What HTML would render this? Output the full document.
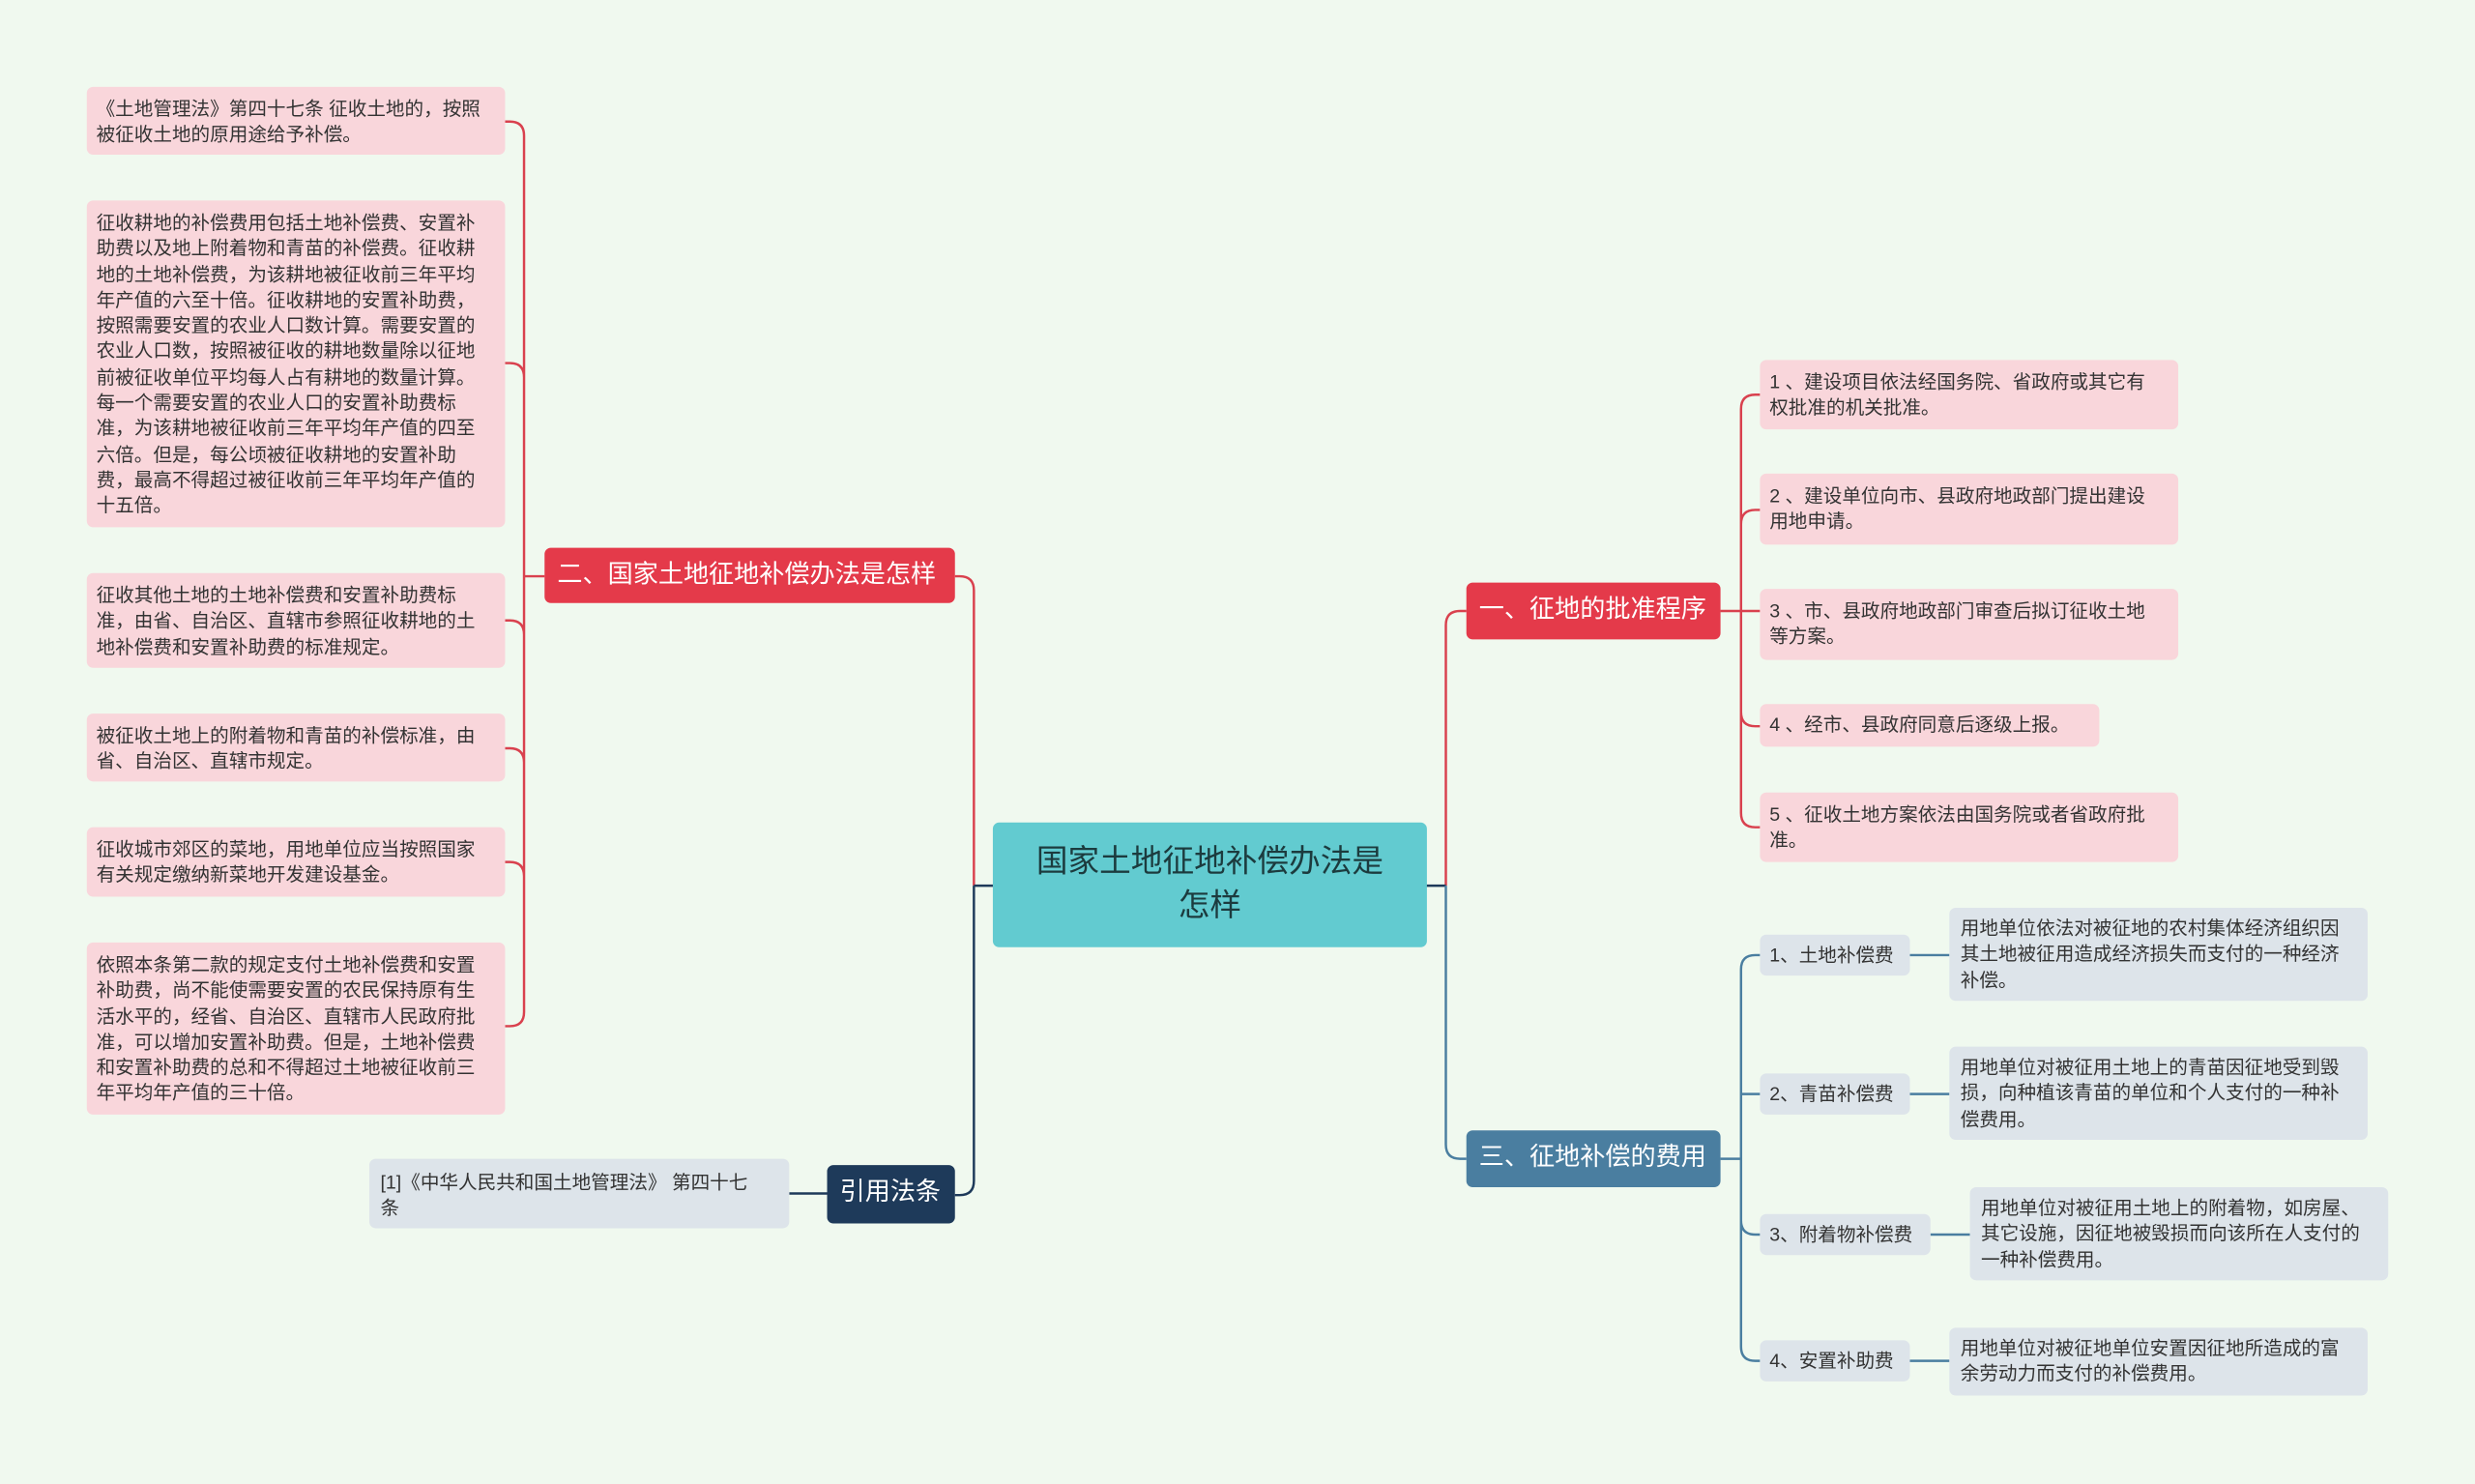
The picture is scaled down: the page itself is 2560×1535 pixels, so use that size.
<!DOCTYPE html>
<html><head><meta charset="utf-8"><style>
html,body{margin:0;padding:0;width:2560px;height:1535px;overflow:hidden;background:#f0f9ef;}
#w{position:absolute;left:0;top:0;width:1568px;height:940px;transform:scale(1.63265,1.63298);transform-origin:0 0;font-family:"Liberation Sans","Noto Sans CJK SC",sans-serif;}
.n{position:absolute;box-sizing:border-box;border-radius:4px;}
.leaf{background:#f9d6db;color:#333;font-size:12px;line-height:16.3px;padding:6px 11px 6px 6px;}
.gl{background:#dde4ea;color:#333;font-size:12px;line-height:16.3px;padding:5px 11px 5px 7px;}
.lb{white-space:nowrap;padding:5px 4px 0 6px;}
.m{color:#fff;font-size:16px;line-height:36px;padding:0 8px;white-space:nowrap;}
svg{position:absolute;left:0;top:0;}
</style></head><body><div id="w">
<svg width="1568" height="940" fill="none" stroke-width="1.5">
<g stroke="#d9414e">
<path d="M617,561 V374 Q617,365 608,365 H605"/>
<path d="M916,561 V396 Q916,387 925,387 H929"/>
<path d="M345,365 H332"/>
<path d="M332,86 V641 M332,86 Q332,77 323,77 H320 M332,239 Q332,230 323,230 H320 M332,402 Q332,393 323,393 H320 M332,483 Q332,474 323,474 H320 M332,555 Q332,546 323,546 H320 M332,641 Q332,650 323,650 H320"/>
<path d="M1090,387 H1103"/>
<path d="M1103,259 V515 M1103,259 Q1103,250 1112,250 H1115 M1103,332 Q1103,323 1112,323 H1115 M1103,387 H1115 M1103,451 Q1103,460 1112,460 H1115 M1103,515 Q1103,524 1112,524 H1115"/>
</g>
<path d="M617,561 V748 Q617,757 608,757 H605" stroke="#1e3a5a"/>
<path d="M524,756 H500" stroke="#1e3a5a"/>
<path d="M617,561 H916" stroke="#1e3a5a"/>
<g stroke="#4a7ea0">
<path d="M916,561 V725 Q916,734 925,734 H929"/>
<path d="M1090,734 H1103 M1103,614 V853 M1103,614 Q1103,605 1112,605 H1115 M1103,693 H1115 M1103,773 Q1103,782 1112,782 H1115 M1103,853 Q1103,862 1112,862 H1115"/>
<path d="M1210,605 H1235 M1210,693 H1235 M1223,782 H1248 M1210,862 H1235"/>
</g>
</svg>
<div class="n" style="left:629px;top:521px;width:275px;height:79px;background:#62cbd0;color:#1c3b3e;font-size:20px;line-height:28px;text-align:center;padding-top:11px;">国家土地征地补偿办法是<br>怎样</div>
<div class="n m" style="left:929px;top:369px;width:161px;height:36px;background:#e43a4a;">一、征地的批准程序</div>
<div class="n m" style="left:345px;top:347px;width:260px;height:35px;line-height:35px;background:#e43a4a;">二、国家土地征地补偿办法是怎样</div>
<div class="n m" style="left:929px;top:716px;width:161px;height:36px;background:#4a7ea0;">三、征地补偿的费用</div>
<div class="n m" style="left:524px;top:738px;width:81px;height:37px;background:#1e3a5a;">引用法条</div>

<div class="n leaf" style="left:1115px;top:228px;width:265px;height:44px;">1 、建设项目依法经国务院、省政府或其它有权批准的机关批准。</div>
<div class="n leaf" style="left:1115px;top:300px;width:265px;height:45px;">2 、建设单位向市、县政府地政部门提出建设用地申请。</div>
<div class="n leaf" style="left:1115px;top:373px;width:265px;height:45px;">3 、市、县政府地政部门审查后拟订征收土地等方案。</div>
<div class="n leaf" style="left:1115px;top:446px;width:215px;height:27px;padding-top:5px;">4 、经市、县政府同意后逐级上报。</div>
<div class="n leaf" style="left:1115px;top:502px;width:265px;height:44px;">5 、征收土地方案依法由国务院或者省政府批准。</div>

<div class="n leaf" style="left:55px;top:55px;width:265px;height:43px;">《土地管理法》第四十七条 征收土地的，按照被征收土地的原用途给予补偿。</div>
<div class="n leaf" style="left:55px;top:127px;width:265px;height:207px;">征收耕地的补偿费用包括土地补偿费、安置补助费以及地上附着物和青苗的补偿费。征收耕地的土地补偿费，为该耕地被征收前三年平均年产值的六至十倍。征收耕地的安置补助费，按照需要安置的农业人口数计算。需要安置的农业人口数，按照被征收的耕地数量除以征地前被征收单位平均每人占有耕地的数量计算。每一个需要安置的农业人口的安置补助费标准，为该耕地被征收前三年平均年产值的四至六倍。但是，每公顷被征收耕地的安置补助费，最高不得超过被征收前三年平均年产值的十五倍。</div>
<div class="n leaf" style="left:55px;top:363px;width:265px;height:60px;">征收其他土地的土地补偿费和安置补助费标准，由省、自治区、直辖市参照征收耕地的土地补偿费和安置补助费的标准规定。</div>
<div class="n leaf" style="left:55px;top:452px;width:265px;height:43px;">被征收土地上的附着物和青苗的补偿标准，由省、自治区、直辖市规定。</div>
<div class="n leaf" style="left:55px;top:524px;width:265px;height:44px;">征收城市郊区的菜地，用地单位应当按照国家有关规定缴纳新菜地开发建设基金。</div>
<div class="n leaf" style="left:55px;top:597px;width:265px;height:109px;">依照本条第二款的规定支付土地补偿费和安置补助费，尚不能使需要安置的农民保持原有生活水平的，经省、自治区、直辖市人民政府批准，可以增加安置补助费。但是，土地补偿费和安置补助费的总和不得超过土地被征收前三年平均年产值的三十倍。</div>

<div class="n gl" style="left:234px;top:734px;width:266px;height:44px;padding:7px 4px 5px 7px;white-space:nowrap;">[1]《中华人民共和国土地管理法》 第四十七<br>条</div>

<div class="n gl lb" style="left:1115px;top:592px;width:95px;height:26px;">1、土地补偿费</div>
<div class="n gl lb" style="left:1115px;top:680px;width:95px;height:26px;">2、青苗补偿费</div>
<div class="n gl lb" style="left:1115px;top:769px;width:108px;height:26px;">3、附着物补偿费</div>
<div class="n gl lb" style="left:1115px;top:849px;width:95px;height:26px;">4、安置补助费</div>
<div class="n gl" style="left:1235px;top:575px;width:265px;height:59px;">用地单位依法对被征地的农村集体经济组织因其土地被征用造成经济损失而支付的一种经济补偿。</div>
<div class="n gl" style="left:1235px;top:663px;width:265px;height:59px;">用地单位对被征用土地上的青苗因征地受到毁损，向种植该青苗的单位和个人支付的一种补偿费用。</div>
<div class="n gl" style="left:1248px;top:752px;width:265px;height:59px;">用地单位对被征用土地上的附着物，如房屋、其它设施，因征地被毁损而向该所在人支付的一种补偿费用。</div>
<div class="n gl" style="left:1235px;top:841px;width:265px;height:43px;">用地单位对被征地单位安置因征地所造成的富余劳动力而支付的补偿费用。</div>
</div></body></html>
